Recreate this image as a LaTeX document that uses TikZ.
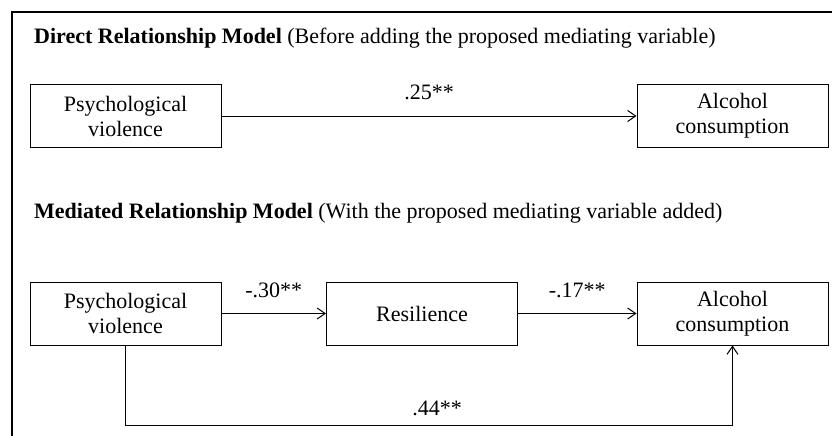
\documentclass[tikz,border=0pt]{standalone}
\usepackage{fontspec}
\setmainfont{Liberation Serif}
\usetikzlibrary{arrows.meta}
\begin{document}
\begin{tikzpicture}[x=1pt,y=-1pt,
  varbox/.style={draw, line width=1pt, minimum width=191pt, minimum height=63pt, inner sep=0pt, align=center, font=\fontsize{22}{25}\selectfont},
  arr/.style={line width=1pt, -{Straight Barb[length=8pt,width=11pt,line width=1pt]}},
  lbl/.style={inner sep=0pt, font=\fontsize{22}{25}\selectfont},
  ttl/.style={inner sep=0pt, anchor=base west, font=\fontsize{22}{25}\selectfont}]
\useasboundingbox (0,0) rectangle (832,436);
% frame
\draw[line width=2pt] (832,12) -- (12,12) -- (12,437);
% titles
\node[ttl] (t1) at (34,44) {\textbf{Direct Relationship Model} (Before adding the proposed mediating variable)};
\node[ttl] (t2) at (34,218) {\textbf{Mediated Relationship Model} (With the proposed mediating variable added)};
% direct model
\node[varbox] (pv1) at (125.5,116) {Psychological\\violence};
\node[varbox] (ac1) at (732.5,116) {Alcohol\\consumption};
\draw[arr] (pv1) -- node[lbl, midway, above=16pt] {.25**} (ac1);
% mediated model
\node[varbox] (pv2) at (125.5,313.5) {Psychological\\violence};
\node[varbox] (res) at (422,313.5) {Resilience};
\node[varbox] (ac2) at (732.5,313.5) {Alcohol\\consumption};
\draw[arr] (pv2) -- node[lbl, midway, above=15pt] {-.30**} (res);
\draw[arr] (res) -- node[lbl, midway, above=15pt] {-.17**} (ac2);
\coordinate (bl) at (127,425);
\draw[arr] (pv2.south) -- (pv2.south |- bl) -- node[lbl, midway, above=9pt, xshift=8pt] {.44**} (ac2.south |- bl) -- (ac2.south);
\end{tikzpicture}
\end{document}
